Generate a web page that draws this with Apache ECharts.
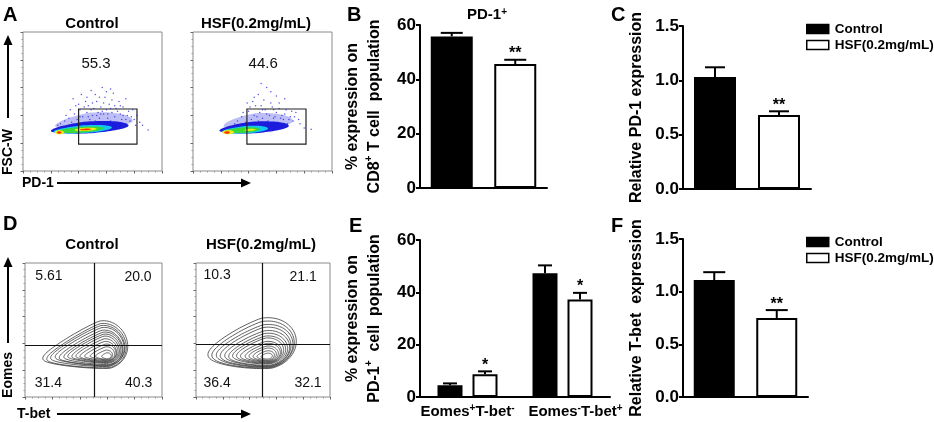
<!doctype html>
<html lang="en">
<head>
<meta charset="UTF-8">
<title>PD-1 / T-bet</title>
<style>html,body{margin:0;padding:0;background:#fff;}</style>
</head>
<body>
<div id="main" style="width:934px;height:422px;"></div>
<script src="https://cdn.jsdelivr.net/npm/echarts@6/dist/echarts.min.js"></script>
<script>
var FONT = '"Liberation Sans", Arial, sans-serif';

// ---- bar data ----
var groups = ['Control', 'HSF(0.2mg/mL)'];
// B: % PD-1+ of CD8+ T cells
var pd1PctMean = [55.8, 45.6];
var pd1PctErr = [1.3, 1.6];
var pd1PctSig = ['', '**'];
// C: relative PD-1 expression
var pd1RelMean = [1.03, 0.68];
var pd1RelErr = [0.09, 0.035];
var pd1RelSig = ['', '**'];
// E: subsets of PD-1+ cells
var subsets = ['Eomes+T-bet-', 'Eomes-T-bet+'];
var subCtrlMean = [4.5, 47.3];
var subCtrlErr = [0.7, 3.0];
var subHsfMean = [8.7, 37.3];
var subHsfErr = [1.1, 2.5];
var subHsfSig = ['*', '*'];
// F: relative T-bet expression
var tbetRelMean = [1.11, 0.75];
var tbetRelErr = [0.075, 0.075];
var tbetRelSig = ['', '**'];

// ---- flow data (plot units 0-100) ----
// density layers: cx, cy, rxLeft, rxRight, ryTop, ryBottom, tilt, taper, colour index
var ctrlHeat = [
  [49, 34, 26, 30, 8, 4, 4, 0.3, 0],
  [46, 30.6, 26, 30, 5, 3.6, 4, 0.25, 1],
  [43, 29.8, 21, 21, 3, 2.6, 4, 0.2, 2],
  [42, 29.6, 18.5, 16, 2.2, 2, 4, 0.2, 3],
  [45, 29.9, 8, 8, 1.2, 1.1, 3, 0, 4],
  [26, 27.8, 3.2, 3.5, 1.5, 1.4, 0, 0, 4],
  [26, 27.7, 1.6, 1.6, 0.9, 0.9, 0, 0, 5],
  [45, 29.9, 4, 4, 0.6, 0.6, 3, 0, 5]
];
var hsfHeat = [
  [45, 34, 23, 27, 7.5, 4, 4, 0.3, 0],
  [42, 30.6, 23, 27, 4.8, 3.6, 4, 0.25, 1],
  [38, 29.5, 17, 16, 2.9, 2.5, 4, 0.2, 2],
  [36, 29.3, 14, 12, 2.1, 1.9, 4, 0.2, 3],
  [25, 27.9, 4, 4.5, 1.5, 1.4, 0, 0, 4],
  [24.5, 27.7, 2, 2, 0.9, 0.9, 0, 0, 5],
  [41, 29.6, 4, 4, 0.7, 0.7, 3, 0, 4]
];
var ctrlDots = [
  [30,36],[33,38],[35,35],[37,41],[39,37],[41,44],[43,39],[44,35],[46,42],[47,47],
  [48,37],[50,40],[51,45],[52,36],[53,50],[54,42],[55,38],[56,46],[57,35],[58,41],
  [59,53],[60,44],[61,38],[62,48],[63,36],[64,42],[65,56],[66,39],[67,45],[68,35],
  [69,50],[70,41],[71,37],[72,46],[73,34],[75,40],[77,36],[79,44],[81,33],[84,35],
  [90,29.5],[36,52],[42,55],[49,58],[57,60],[63,59],[45,50],[27,34],[25,33],[74,52],
  [52,55],[40,48],[31,40],[34,44],[38,47],[41,39],[44,46],[46,53],[49,44],[50,49],
  [53,40],[55,53],[57,43],[58,49],[60,57],[61,41],[63,45],[64,51],[66,47],[68,43],
  [70,47],[72,40],[74,37],[76,43],[78,39],[80,37],[82,40],[86,33],[47,39],[56,41]
];
var hsfDots = [
  [32,36],[35,39],[38,35],[40,43],[42,37],[44,40],[45,47],[47,36],[48,42],[50,38],
  [51,51],[52,44],[54,36],[55,40],[56,57],[57,46],[58,38],[60,42],[61,35],[62,49],
  [64,40],[65,37],[67,44],[68,34],[70,39],[72,36],[74,42],[77,34],[80,31],[85,30],
  [44,53],[53,60],[47,55],[39,49],[30,34],[66,52],[36,42],[41,46],[43,50],[46,39],
  [49,47],[50,44],[53,41],[56,49],[58,44],[59,39],[62,45],[63,38],[66,41],[69,37],
  [71,43],[73,39],[76,37],[49,63],[60,54]
];
// gates: x0, y0, x1, y1
var ctrlGate = [40, 19.4, 82, 44.6];
var hsfGate = [38.8, 19.4, 81.3, 44.6];
var gatePct = ['55.3', '44.6'];
var gateLabelAt = [[52.5, 77], [50.5, 77]];

// contour levels: cx, cy, rxLeft, rxRight, ryTop, ryBottom, tilt, taper
var ctrlContours = [
  [58, 38, 46, 17, 19, 17, 12, 0.5],
  [58, 37, 43, 16, 18, 15.5, 12, 0.5],
  [58, 36.5, 40, 15, 17, 14, 11, 0.5],
  [58.5, 36, 37, 14, 16, 13, 10, 0.5],
  [58.5, 35, 34, 13, 15, 11.5, 10, 0.5],
  [59, 34.5, 31, 12, 14, 10.5, 9, 0.5],
  [59, 34, 28, 11, 13, 9, 8, 0.5],
  [59, 33.5, 25, 10, 12, 8, 8, 0.5],
  [59, 33, 22, 9, 10.5, 7, 7, 0.5],
  [59, 32.5, 19, 8, 9, 6, 7, 0.5],
  [59.5, 32, 16, 7, 7.5, 5, 6, 0.5],
  [59.5, 31.5, 12, 6, 6, 4, 5, 0.5],
  [59.5, 31, 8, 4.5, 4, 3, 5, 0.4],
  [60, 30.5, 4, 3, 2.5, 2, 5, 0.3]
];
var hsfContours = [
  [52, 40, 44, 23, 19, 19, 12, 0.35],
  [52, 39, 41, 21.5, 17.5, 17.5, 12, 0.35],
  [52.5, 38, 38, 20, 16, 16, 11, 0.35],
  [52.5, 37, 35, 18.5, 15, 14.5, 11, 0.35],
  [53, 36, 32, 17, 13.5, 13, 10, 0.35],
  [53, 35, 29, 15.5, 12.5, 11.5, 10, 0.35],
  [53, 34.5, 26, 14, 11, 10, 9, 0.35],
  [53, 34, 23, 12.5, 10, 9, 9, 0.35],
  [53, 33, 20, 11, 8.5, 7.5, 8, 0.35],
  [53.5, 32.5, 17, 9.5, 7.5, 6.5, 8, 0.35],
  [53.5, 32, 14, 8, 6, 5.5, 7, 0.3],
  [53.5, 31.5, 11, 6.5, 5, 4.5, 7, 0.3],
  [53.5, 31, 8, 5, 3.5, 3.5, 6, 0.3],
  [53.5, 30.5, 5, 3.5, 2.2, 2.2, 6, 0.2]
];
// quadrant gates (x, y) and percentages UL, UR, LL, LR
var ctrlQuad = [50.4, 38.8];
var hsfQuad = [49.3, 39.5];
var ctrlQuadPct = ['5.61', '20.0', '31.4', '40.3'];
var hsfQuadPct = ['10.3', '21.1', '36.4', '32.1'];
var ctrlQuadAt = [[17.5, 90], [82.5, 89.5], [17, 10], [83, 10]];
var hsfQuadAt = [[15.7, 91], [80, 89.5], [15.7, 10], [83.6, 10.5]];

var heatColors = ['rgba(110,110,235,0.45)', '#1c1cdc', '#10c8f0', '#38d838', '#f2ee10', '#ff3010'];

var myChart = echarts.init(document.getElementById('main'));

function eggPoints(api, v) {
  var a = v[6] * Math.PI / 180, pts = [];
  for (var i = 0; i < 90; i++) {
    var t = i / 90 * Math.PI * 2, u = Math.cos(t), w = Math.sin(t);
    var x = u * (u > 0 ? v[3] : v[2]);
    var y = w * (w > 0 ? v[4] : v[5]) * (u < 0 ? 1 + v[7] * u : 1);
    pts.push(api.coord([v[0] + x * Math.cos(a) - y * Math.sin(a), v[1] + x * Math.sin(a) + y * Math.cos(a)]));
  }
  return pts;
}
function vals(api, n) {
  var v = [];
  for (var k = 0; k < n; k++) v.push(api.value(k));
  return v;
}
function heatItem(params, api) {
  var v = vals(api, 9);
  return { type: 'polygon', shape: { points: eggPoints(api, v) }, style: { fill: heatColors[v[8]] } };
}
function contourItem(params, api) {
  return { type: 'polygon', shape: { points: eggPoints(api, vals(api, 8)) },
    style: { fill: 'none', stroke: '#383838', lineWidth: 0.8 } };
}
function gateItem(params, api) {
  var p0 = api.coord([api.value(0), api.value(3)]);
  var p1 = api.coord([api.value(2), api.value(1)]);
  return { type: 'rect', shape: { x: p0[0], y: p0[1], width: p1[0] - p0[0], height: p1[1] - p0[1] },
    style: { fill: 'none', stroke: '#222', lineWidth: 1.2 } };
}
function textItem(texts, size) {
  return function (params, api) {
    var p = api.coord([api.value(0), api.value(1)]);
    return { type: 'text', x: p[0], y: p[1], style: { text: texts[params.dataIndex], font: size + 'px ' + FONT,
      fill: '#111', align: 'center', verticalAlign: 'middle', textAlign: 'center', textVerticalAlign: 'middle' } };
  };
}
// upper error bar + significance mark
function errItem(capHalf, spacing, sig) {
  return function (params, api) {
    var c = api.value(0), m = api.value(1), e = api.value(2), side = api.value(3);
    var p0 = api.coord([c, m]), p1 = api.coord([c, m + e]);
    var x = p0[0] + side * spacing;
    var s = { stroke: '#000', lineWidth: 2 };
    return { type: 'group', children: [
      { type: 'line', shape: { x1: x, y1: p0[1], x2: x, y2: p1[1] }, style: s },
      { type: 'line', shape: { x1: x - capHalf, y1: p1[1], x2: x + capHalf, y2: p1[1] }, style: s },
      { type: 'text', x: x, y: p1[1] - 6, style: { text: sig[params.dataIndex] || '', font: 'bold 16px ' + FONT,
        fill: '#000', align: 'center', verticalAlign: 'middle', textAlign: 'center', textVerticalAlign: 'middle' } }
    ] };
  };
}

function flowAxis(gi) {
  return { gridIndex: gi, type: 'value', min: 0, max: 100, interval: 20,
    axisLine: { show: false }, axisLabel: { show: false }, splitLine: { show: false },
    axisTick: { show: true, length: 2.5, lineStyle: { color: '#666', width: 1 } },
    minorTick: { show: true, splitNumber: 4, length: 1.5, lineStyle: { color: '#999' } } };
}
var richSup = {
  a: { fontFamily: FONT, fontWeight: 'bold', fontSize: 16, color: '#000' },
  s: { fontFamily: FONT, fontWeight: 'bold', fontSize: 10, color: '#000', verticalAlign: 'top' }
};
function barX(gi, cats, showLabel) {
  return { gridIndex: gi, type: 'category', data: cats,
    axisLine: { lineStyle: { color: '#000', width: 2 } },
    axisTick: { alignWithLabel: true, length: 5, lineStyle: { color: '#000', width: 2 } },
    axisLabel: { show: showLabel, interval: 0, margin: 6,
      formatter: function (v, i) {
        return (i === 1 ? '{p|}' : '') + '{m|' + v.slice(0, 5) + '}{s|' + v[5] + '}{m|' + v.slice(6, 11) + '}{s|' + v[11] + '}';
      },
      rich: { m: { fontFamily: FONT, fontWeight: 'bold', fontSize: 15, lineHeight: 18, color: '#000' },
              s: { fontFamily: FONT, fontWeight: 'bold', fontSize: 10, lineHeight: 10, color: '#000', verticalAlign: 'top' },
              p: { width: 26 } } } };
}
function barY(gi, max, interval, dec, name, gap) {
  return { gridIndex: gi, type: 'value', min: 0, max: max, interval: interval,
    name: name, nameLocation: 'middle', nameRotate: 90, nameGap: gap,
    nameTextStyle: { fontFamily: FONT, fontWeight: 'bold', fontSize: 16, lineHeight: 22, color: '#000', rich: richSup },
    axisLine: { show: true, lineStyle: { color: '#000', width: 2 } },
    axisTick: { show: true, length: 4, lineStyle: { color: '#000', width: 2 } },
    axisLabel: { margin: 4, color: '#000', fontFamily: FONT, fontWeight: 'bold', fontSize: 17,
      formatter: function (v) { return dec ? v.toFixed(1) : String(v); } },
    splitLine: { show: false } };
}
function pairBars(gi, mean, err, sig, width, cap) {
  var st = { borderColor: '#000', borderWidth: 2 };
  return [
    { type: 'bar', name: groups[0], xAxisIndex: gi, yAxisIndex: gi, data: [mean[0], '-'], barWidth: width, barGap: '-100%',
      itemStyle: Object.assign({ color: '#000' }, st) },
    { type: 'bar', name: groups[1], xAxisIndex: gi, yAxisIndex: gi, data: ['-', mean[1]], barWidth: width, barGap: '-100%',
      itemStyle: Object.assign({ color: '#fff' }, st) },
    { type: 'custom', xAxisIndex: gi, yAxisIndex: gi, z: 5, renderItem: errItem(cap, 0, sig),
      data: mean.map(function (m, i) { return [i, m, err[i], 0]; }) }
  ];
}
function flowSeries(gi, extra) {
  return extra.map(function (s) { return Object.assign({ xAxisIndex: gi, yAxisIndex: gi, silent: true }, s); });
}

var grids = [
  { left: 23, top: 32, width: 139, height: 139 },
  { left: 193, top: 32, width: 139, height: 139 },
  { left: 420, top: 25, width: 127, height: 163 },
  { left: 683, top: 26, width: 128, height: 163 },
  { left: 25, top: 263, width: 137, height: 134 },
  { left: 196, top: 263, width: 134, height: 134 },
  { left: 420, top: 240, width: 190, height: 157 },
  { left: 683, top: 239, width: 125, height: 158 }
].map(function (g, i) {
  var flow = [0, 1, 4, 5].indexOf(i) >= 0;
  return Object.assign({ show: flow, borderColor: '#8a8a8a', borderWidth: 1, backgroundColor: 'transparent' }, g);
});

var quadLine = function (q) {
  return { silent: true, symbol: 'none', label: { show: false }, lineStyle: { color: '#111', width: 1.2, type: 'solid' },
    data: [{ xAxis: q[0] }, { yAxis: q[1] }] };
};

var series = [].concat(
  flowSeries(0, [
    { type: 'scatter', data: ctrlDots, symbolSize: 1.5, itemStyle: { color: '#2a2ad8' }, z: 3 },
    { type: 'custom', renderItem: heatItem, data: ctrlHeat, clip: true },
    { type: 'custom', renderItem: gateItem, data: [ctrlGate] },
    { type: 'custom', renderItem: textItem([gatePct[0]], 15), data: [gateLabelAt[0]] }
  ]),
  flowSeries(1, [
    { type: 'scatter', data: hsfDots, symbolSize: 1.5, itemStyle: { color: '#2a2ad8' }, z: 3 },
    { type: 'custom', renderItem: heatItem, data: hsfHeat, clip: true },
    { type: 'custom', renderItem: gateItem, data: [hsfGate] },
    { type: 'custom', renderItem: textItem([gatePct[1]], 15), data: [gateLabelAt[1]] }
  ]),
  pairBars(2, pd1PctMean, pd1PctErr, pd1PctSig, 42, 11),
  pairBars(3, pd1RelMean, pd1RelErr, pd1RelSig, 42, 10),
  flowSeries(4, [
    { type: 'custom', renderItem: contourItem, data: ctrlContours, clip: true, markLine: quadLine(ctrlQuad) },
    { type: 'custom', renderItem: textItem(ctrlQuadPct, 14), data: ctrlQuadAt }
  ]),
  flowSeries(5, [
    { type: 'custom', renderItem: contourItem, data: hsfContours, clip: true, markLine: quadLine(hsfQuad) },
    { type: 'custom', renderItem: textItem(hsfQuadPct, 14), data: hsfQuadAt }
  ]),
  [
    { type: 'bar', name: groups[0], xAxisIndex: 6, yAxisIndex: 6, data: subCtrlMean, barWidth: 25, barGap: '40%',
      itemStyle: { color: '#000', borderColor: '#000', borderWidth: 2 } },
    { type: 'bar', name: groups[1], xAxisIndex: 6, yAxisIndex: 6, data: subHsfMean, barWidth: 25, barGap: '40%',
      itemStyle: { color: '#fff', borderColor: '#000', borderWidth: 2 } },
    { type: 'custom', xAxisIndex: 6, yAxisIndex: 6, z: 5, renderItem: errItem(7, 17.5, []),
      data: subCtrlMean.map(function (m, i) { return [i, m, subCtrlErr[i], -1]; }) },
    { type: 'custom', xAxisIndex: 6, yAxisIndex: 6, z: 5, renderItem: errItem(7, 17.5, subHsfSig),
      data: subHsfMean.map(function (m, i) { return [i, m, subHsfErr[i], 1]; }) }
  ],
  pairBars(7, tbetRelMean, tbetRelErr, tbetRelSig, 41, 11)
);

function legendAt(top) {
  return { orient: 'vertical', left: 806, top: top, padding: 0, itemGap: 2, itemWidth: 22, itemHeight: 9,
    icon: 'rect', selectedMode: false,
    textStyle: { fontFamily: FONT, fontWeight: 'bold', fontSize: 13.5, color: '#000', padding: [0, 0, 0, 1] },
    data: [
      { name: groups[0], itemStyle: { color: '#000', borderColor: '#000', borderWidth: 1.5 } },
      { name: groups[1], itemStyle: { color: '#fff', borderColor: '#000', borderWidth: 1.5 } }
    ] };
}

function txt(x, y, text, size, opts) {
  opts = opts || {};
  return Object.assign({ type: 'text', x: x, y: y, silent: true,
    style: Object.assign({ text: text, font: 'bold ' + size + 'px ' + FONT, fill: '#000',
      align: opts.align || 'center', verticalAlign: opts.va || 'middle',
      textAlign: opts.align || 'center', textVerticalAlign: opts.va || 'middle' }, opts.style || {}) },
    opts.rotation ? { rotation: opts.rotation } : {});
}
function seg(x1, y1, x2, y2) {
  return { type: 'line', silent: true, shape: { x1: x1, y1: y1, x2: x2, y2: y2 }, style: { stroke: '#000', lineWidth: 2 } };
}
function head(pts) {
  return { type: 'polygon', silent: true, shape: { points: pts }, style: { fill: '#000' } };
}

var graphics = [
  txt(3, 5, 'A', 20, { align: 'left', va: 'top' }),
  txt(347, 5, 'B', 20, { align: 'left', va: 'top' }),
  txt(611, 5, 'C', 20, { align: 'left', va: 'top' }),
  txt(3, 214, 'D', 20, { align: 'left', va: 'top' }),
  txt(349, 216, 'E', 20, { align: 'left', va: 'top' }),
  txt(611, 216, 'F', 20, { align: 'left', va: 'top' }),
  txt(92, 24, 'Control', 15),
  txt(256, 24, 'HSF(0.2mg/mL)', 15),
  txt(92, 245, 'Control', 15),
  txt(261, 245, 'HSF(0.2mg/mL)', 15),
  txt(487, 15, '{m|PD-1}{s|+}', 15, { style: { rich: {
    m: { fontFamily: FONT, fontWeight: 'bold', fontSize: 15, color: '#000' },
    s: { fontFamily: FONT, fontWeight: 'bold', fontSize: 10, color: '#000', verticalAlign: 'top' } } } }),
  // flow axis arrows
  seg(8, 118, 8, 44), head([[3.5, 45], [12.5, 45], [8, 35]]),
  txt(8, 152, 'FSC-W', 14, { rotation: Math.PI / 2 }),
  txt(22, 183, 'PD-1', 14, { align: 'left' }),
  seg(57, 183, 242, 183), head([[241, 178.5], [241, 187.5], [251, 183]]),
  seg(8, 343, 8, 266), head([[3.5, 267], [12.5, 267], [8, 257]]),
  txt(8, 375, 'Eomes', 14, { rotation: Math.PI / 2 }),
  txt(17, 414, 'T-bet', 14, { align: 'left' }),
  seg(57, 414, 242, 414), head([[241, 409.5], [241, 418.5], [251, 414]])
];

option = {
  animation: false,
  textStyle: { fontFamily: FONT },
  grid: grids,
  xAxis: [flowAxis(0), flowAxis(1), barX(2, groups, false), barX(3, groups, false),
          flowAxis(4), flowAxis(5), barX(6, subsets, true), barX(7, groups, false)],
  yAxis: [flowAxis(0), flowAxis(1),
          barY(2, 60, 20, false, '{a|% expression on}\n{a|CD8}{s|+}{a| T cell  population}', 34),
          barY(3, 1.5, 0.5, true, 'Relative PD-1 expression', 35),
          flowAxis(4), flowAxis(5),
          barY(6, 60, 20, false, '{a|% expression on}\n{a|PD-1}{s|+}{a|  cell  population}', 34),
          barY(7, 1.5, 0.5, true, 'Relative T-bet  expression', 35)],
  legend: [legendAt(22), legendAt(235)],
  series: series,
  graphic: graphics
};

myChart.setOption(option);
</script>
</body>
</html>
